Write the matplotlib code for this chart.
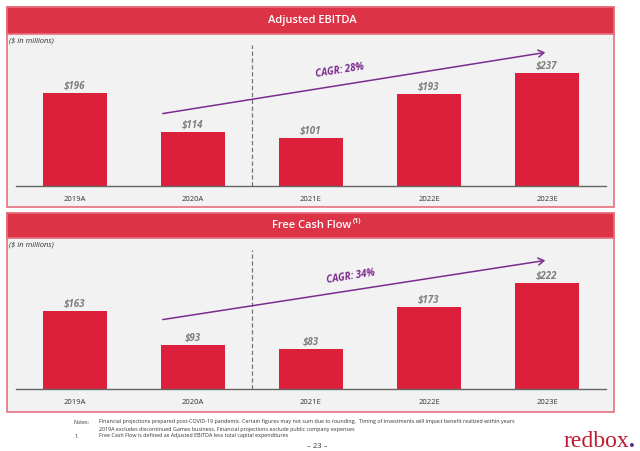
import matplotlib
matplotlib.use("Agg")
import matplotlib.pyplot as plt
from matplotlib.patches import Rectangle, FancyArrowPatch

categories = ["2019A", "2020A", "2021E", "2022E", "2023E"]
ebitda = [196, 114, 101, 193, 237]
fcf = [163, 93, 83, 173, 222]
ebitda_cagr = "CAGR: 28%"
fcf_cagr = "CAGR: 34%"

W, H = 640, 451
fig = plt.figure(figsize=(W / 100, H / 100), dpi=100)
fig.patch.set_facecolor("white")

RED_HDR = "#DC3347"
BAR = "#DC203B"
PANEL_BG = "#F2F2F2"
BORDER = "#E8707F"
PURPLE = "#7B2C8E"
GRAY = "#7F7F7F"

def fx(x):
    return x / W

def fy(y):
    return 1 - y / H

def panel(top, bottom, header_bottom, title, sup, values, cagr, ax_top, base, arrow, text_xy):
    fig.patches.append(Rectangle((fx(7), fy(bottom)), fx(614) - fx(7), fy(top) - fy(bottom),
                                 transform=fig.transFigure, facecolor=PANEL_BG,
                                 edgecolor=BORDER, linewidth=1.2, zorder=-5))
    fig.patches.append(Rectangle((fx(7), fy(header_bottom)), fx(614) - fx(7), fy(top) - fy(header_bottom),
                                 transform=fig.transFigure, facecolor=RED_HDR,
                                 edgecolor=BORDER, linewidth=1.2, zorder=-4))
    t = fig.text(fx(312), fy((top + header_bottom) / 2), title, color="white", fontsize=8,
                 fontweight="semibold", ha="center", va="center", family="Open Sans")
    if sup:
        fig.canvas.draw()
        bb = t.get_window_extent()
        fig.text(bb.x1 / W + fx(1), fy((top + header_bottom) / 2 - 4), sup, color="white",
                 fontsize=5, fontweight="bold", ha="left", va="center", family="Open Sans")
    fig.text(fx(9), fy(header_bottom + 7), "($ in millions)", color="#333333", fontsize=5.5,
             style="italic", ha="left", va="center", family="Open Sans")

    ax = fig.add_axes([fx(16), fy(base), fx(606) - fx(16), fy(ax_top) - fy(base)])
    ax.set_facecolor("none")
    scale = 0.476  # px per unit
    ax.set_ylim(0, (base - ax_top) / scale)
    ax.set_xlim(-0.5, len(values) - 0.5)
    xs = list(range(len(values)))
    ax.bar(xs, values, width=0.54, color=BAR, zorder=2)
    for x, v in zip(xs, values):
        ax.text(x, v + 3, f"${v}", ha="center", va="bottom", color=GRAY, fontsize=7,
                fontweight="bold", style="italic", family="Open Sans")
    for s in ["top", "right", "left"]:
        ax.spines[s].set_visible(False)
    ax.spines["bottom"].set_color("#666666")
    ax.spines["bottom"].set_linewidth(1.0)
    ax.set_yticks([])
    ax.set_xticks(xs)
    ax.set_xticklabels(categories, fontsize=5.5, color="#333333", family="Open Sans")
    ax.tick_params(axis="x", length=0, pad=7)
    ax.axvline(1.5, color="#777777", linestyle=(0, (3.5, 2)), linewidth=0.9, zorder=1)

    (x0, y0), (x1, y1) = arrow
    fig.add_artist(FancyArrowPatch(
        (fx(x0), fy(y0)), (fx(x1), fy(y1)), transform=fig.transFigure,
        arrowstyle="->,head_length=4,head_width=2.5", color=PURPLE, linewidth=1.1,
        mutation_scale=1))
    fig.text(fx(text_xy[0]), fy(text_xy[1]), cagr, color=PURPLE, fontsize=7,
             fontweight="bold", style="italic", rotation=9, ha="center", va="center",
             family="Open Sans")
    return ax

panel(7, 207, 34, "Adjusted EBITDA", None, ebitda, ebitda_cagr, 45, 186,
      ((160, 114), (548, 52)), (340, 71))
panel(213, 412, 238, "Free Cash Flow", "(1)", fcf, fcf_cagr, 250, 389,
      ((160, 320), (548, 260)), (351, 277))

notes = [
    (74, 422, "Notes:"),
    (99, 422, "Financial projections prepared post-COVID-19 pandemic. Certain figures may not sum due to rounding.  Timing of investments will impact benefit realized within years"),
    (99, 429, "2019A excludes discontinued Games business. Financial projections exclude public company expenses"),
    (74, 436, "1."),
    (99, 436, "Free Cash Flow is defined as Adjusted EBITDA less total capital expenditures"),
]
for x, y, t in notes:
    fig.text(fx(x), fy(y), t, fontsize=3.9, color="#333333", ha="left", va="center",
             family="Open Sans")
fig.text(fx(317), fy(446), "– 23 –", fontsize=5.5, color="#333333", ha="center", va="center",
         family="Open Sans")
logo = fig.text(fx(563), fy(447), "redbox", fontsize=17, color="#C0182E", ha="left",
                va="baseline", family="Liberation Serif")
fig.canvas.draw()
lb = logo.get_window_extent()
fig.text(lb.x1 / W, fy(447), ".", fontsize=17, color="#5B2C83", ha="left", va="baseline",
         family="Liberation Serif", fontweight="bold")

fig.savefig("out.png", dpi=100, facecolor="white")
